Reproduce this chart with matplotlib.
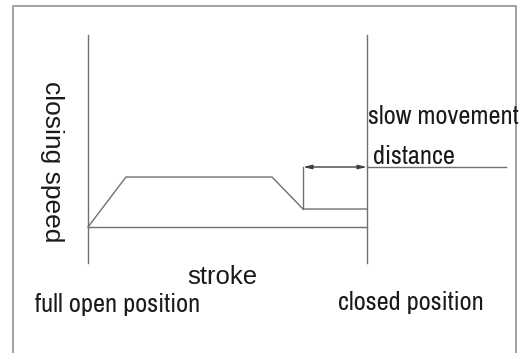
import matplotlib.pyplot as plt
from matplotlib import font_manager

# diagram coordinates are in picture pixels (x right, y down)
stroke_x = [88, 126, 272, 303, 367]
speed_y = [227, 177, 177, 209, 209]
open_x = 88
closed_x = 367
axis_top = 35
axis_bottom = 263
base_y = 227
slow_start_x = 303
dim_y = 167
dim_end_x = 506

names = {f.name for f in font_manager.fontManager.ttflist}
narrow = 'Liberation Sans'
for cand in ['Liberation Sans Narrow', 'Archivo Narrow', 'Roboto Condensed']:
    if cand in names:
        narrow = cand
        break

fig = plt.figure(figsize=(5.28, 3.53), dpi=100)
ax = fig.add_axes([0, 0, 1, 1])
ax.set_xlim(0, 528)
ax.set_ylim(353, 0)
ax.axis('off')

lc = '#707070'
lw = 1.0

# frame
ax.plot([13, 13, 516, 516], [360, 6, 6, 360], color='#9a9a9a', lw=1.3)

# axes of the sketch
ax.plot([open_x, open_x], [axis_top, axis_bottom], color=lc, lw=lw)
ax.plot([closed_x, closed_x], [axis_top, axis_bottom], color=lc, lw=lw)
ax.plot([open_x, closed_x], [base_y, base_y], color=lc, lw=lw)

# speed profile
ax.plot(stroke_x, speed_y, color=lc, lw=lw)

# slow movement distance dimension
ax.plot([slow_start_x, slow_start_x], [speed_y[3], dim_y], color=lc, lw=lw)
ax.annotate('', xy=(slow_start_x, dim_y), xytext=(closed_x, dim_y),
            arrowprops=dict(arrowstyle='<|-|>,head_length=0.5,head_width=0.12',
                            color='#404040', lw=lw, shrinkA=0, shrinkB=0))
ax.plot([closed_x, dim_end_x], [dim_y, dim_y], color=lc, lw=lw)

tc = '#1a1a1a'
ax.text(52, 162, 'closing speed', rotation=-90, ha='center', va='center',
        family='Liberation Sans', fontsize=19, color=tc)
ax.text(368, 117, 'slow movement', ha='left', va='center',
        family=narrow, fontsize=19, color=tc)
ax.text(373, 157, 'distance', ha='left', va='center',
        family=narrow, fontsize=19, color=tc)
ax.text(222, 277, 'stroke', ha='center', va='center',
        family='Liberation Sans', fontsize=18.5, color=tc)
ax.text(35, 304, 'full open position', ha='left', va='center',
        family=narrow, fontsize=19, color=tc)
ax.text(338, 302, 'closed position', ha='left', va='center',
        family=narrow, fontsize=19, color=tc)

fig.savefig('out.png', dpi=100)
